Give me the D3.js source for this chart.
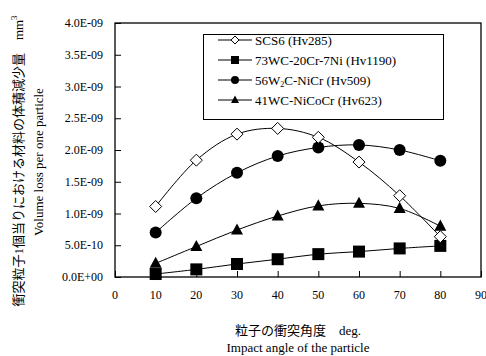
<!DOCTYPE html>
<html>
<head>
<meta charset="utf-8">
<script src="https://cdn.jsdelivr.net/npm/d3@7"></script>
<style>
  body { margin: 0; background: #fff; }
  text { font-family: "Liberation Serif", "Noto Sans CJK JP", serif; fill: #000; }
</style>
</head>
<body>
<script>
// Impact angles (deg.)
var angles = [10, 20, 30, 40, 50, 60, 70, 80];

// Volume loss per one particle (mm3)
var scs6 = [1.11e-9, 1.84e-9, 2.25e-9, 2.34e-9, 2.20e-9, 1.81e-9, 1.28e-9, 0.635e-9];
var wc73 = [0.047e-9, 0.12e-9, 0.205e-9, 0.28e-9, 0.36e-9, 0.40e-9, 0.45e-9, 0.49e-9];
var w2c56 = [0.70e-9, 1.24e-9, 1.64e-9, 1.905e-9, 2.04e-9, 2.08e-9, 2.00e-9, 1.83e-9];
var wc41 = [0.215e-9, 0.48e-9, 0.74e-9, 0.96e-9, 1.12e-9, 1.16e-9, 1.08e-9, 0.80e-9];

var seriesNames = ["SCS6 (Hv285)", "73WC-20Cr-7Ni (Hv1190)", "56W2C-NiCr (Hv509)", "41WC-NiCoCr (Hv623)"];
var seriesMarkers = ["diamond", "square", "circle", "triangle"];

var xTicks = [0, 10, 20, 30, 40, 50, 60, 70, 80, 90];
var yTicks = [0, 0.5e-9, 1.0e-9, 1.5e-9, 2.0e-9, 2.5e-9, 3.0e-9, 3.5e-9, 4.0e-9];

var series = [scs6, wc73, w2c56, wc41].map(function(vals, i) {
    return {
        name: seriesNames[i],
        marker: seriesMarkers[i],
        points: vals.map(function(v, j) { return {x: angles[j], y: v}; })
    };
});

var W = 486, H = 356;
var margin = {left: 115, right: 5, top: 23, bottom: 79};

var svg = d3.select("body").append("svg")
    .attr("width", W)
    .attr("height", H);

var x = d3.scaleLinear().domain([0, 90]).range([margin.left, W - margin.right]);
var y = d3.scaleLinear().domain([0, 4e-9]).range([H - margin.bottom, margin.top]);

// frame
svg.append("rect")
    .attr("x", x(0)).attr("y", y(4e-9))
    .attr("width", x(90) - x(0)).attr("height", y(0) - y(4e-9))
    .attr("fill", "none").attr("stroke", "#000").attr("stroke-width", 1.3);

// y axis, ticks pointing inward
function fmtE(v) {
    var s = v.toExponential(1).toUpperCase();
    var m = s.match(/^([\d.]+)E([+-])(\d+)$/);
    return m[1] + "E" + m[2] + (m[3].length < 2 ? "0" + m[3] : m[3]);
}
var yAxis = svg.append("g")
    .attr("transform", "translate(" + x(0) + ",0)")
    .call(d3.axisRight(y).tickValues(yTicks).tickSize(6).tickFormat(""));
yAxis.select(".domain").remove();
yAxis.selectAll("line").attr("stroke", "#000");

svg.selectAll(".ylab")
    .data(yTicks)
    .enter().append("text")
    .attr("class", "ylab")
    .attr("x", 103)
    .attr("y", function(d) { return y(d) + 4; })
    .attr("text-anchor", "end")
    .attr("font-size", 12)
    .text(fmtE);

// x axis, ticks pointing upward
var xAxis = svg.append("g")
    .attr("transform", "translate(0," + y(0) + ")")
    .call(d3.axisTop(x).tickValues(xTicks).tickSize(6).tickFormat(""));
xAxis.select(".domain").remove();
xAxis.selectAll("line").attr("stroke", "#000");

svg.selectAll(".xlab")
    .data(xTicks)
    .enter().append("text")
    .attr("class", "xlab")
    .attr("x", function(d) { return x(d); })
    .attr("y", 299)
    .attr("text-anchor", "middle")
    .attr("font-size", 12)
    .text(function(d) { return d; });

// axis titles
var cx = (x(0) + x(90)) / 2;
svg.append("text")
    .attr("x", cx).attr("y", 335)
    .attr("text-anchor", "middle").attr("font-size", 13)
    .text("粒子の衝突角度　deg.");
svg.append("text")
    .attr("x", cx).attr("y", 352)
    .attr("text-anchor", "middle").attr("font-size", 13)
    .text("Impact angle of the particle");

var yt = svg.append("text")
    .attr("transform", "translate(23,161) rotate(-90)")
    .attr("text-anchor", "middle").attr("font-size", 13);
yt.append("tspan").text("衝突粒子1個当りにおける材料の体積減少量　mm");
yt.append("tspan").attr("dy", -6).attr("font-size", 9).text("3");

svg.append("text")
    .attr("transform", "translate(43,162) rotate(-90)")
    .attr("text-anchor", "middle").attr("font-size", 13)
    .text("Volume loss per one particle");

// markers
function drawMarker(g, type, size) {
    var r = size / 2;
    if (type == "diamond") {
        g.append("path")
            .attr("d", "M0," + (-r) + "L" + r + ",0L0," + r + "L" + (-r) + ",0Z")
            .attr("fill", "#fff").attr("stroke", "#000").attr("stroke-width", 1);
    } else if (type == "square") {
        g.append("rect")
            .attr("x", -r).attr("y", -r).attr("width", size).attr("height", size)
            .attr("fill", "#000");
    } else if (type == "circle") {
        g.append("circle").attr("r", r).attr("fill", "#000");
    } else {
        g.append("path")
            .attr("d", "M0," + (-r * 1.1) + "L" + r + "," + (r * 0.75) + "L" + (-r) + "," + (r * 0.75) + "Z")
            .attr("fill", "#000");
    }
}

var line = d3.line()
    .x(function(d) { return x(d.x); })
    .y(function(d) { return y(d.y); })
    .curve(d3.curveCatmullRom.alpha(0.5));

// draw series in reverse so diamonds end up on top
series.slice().reverse().forEach(function(s) {
    svg.append("path")
        .attr("d", line(s.points))
        .attr("fill", "none")
        .attr("stroke", "#000")
        .attr("stroke-width", 1);
});
series.slice().reverse().forEach(function(s) {
    svg.selectAll(null)
        .data(s.points)
        .enter().append("g")
        .attr("transform", function(d) { return "translate(" + x(d.x) + "," + y(d.y) + ")"; })
        .each(function() { drawMarker(d3.select(this), s.marker, 12); });
});

// legend
var lg = svg.append("g");
lg.append("rect")
    .attr("x", 203.5).attr("y", 34.5).attr("width", 240).attr("height", 85)
    .attr("fill", "#fff").attr("stroke", "#000").attr("stroke-width", 1);

var rowY = [40, 60, 80, 100];
series.forEach(function(s, i) {
    var row = lg.append("g").attr("transform", "translate(0," + rowY[i] + ")");
    row.append("line")
        .attr("x1", 218).attr("x2", 252).attr("y1", 0).attr("y2", 0)
        .attr("stroke", "#000").attr("stroke-width", 1);
    var m = row.append("g").attr("transform", "translate(235,0)");
    drawMarker(m, s.marker, 8);
    var t = row.append("text")
        .attr("x", 255).attr("y", 4.5)
        .attr("font-size", 13);
    if (s.name.indexOf("W2C") >= 0) {
        t.append("tspan").text("56W");
        t.append("tspan").attr("font-size", 8).attr("dy", 2).text("2");
        t.append("tspan").attr("dy", -2).text("C-NiCr (Hv509)");
    } else {
        t.text(s.name);
    }
});
</script>
</body>
</html>
